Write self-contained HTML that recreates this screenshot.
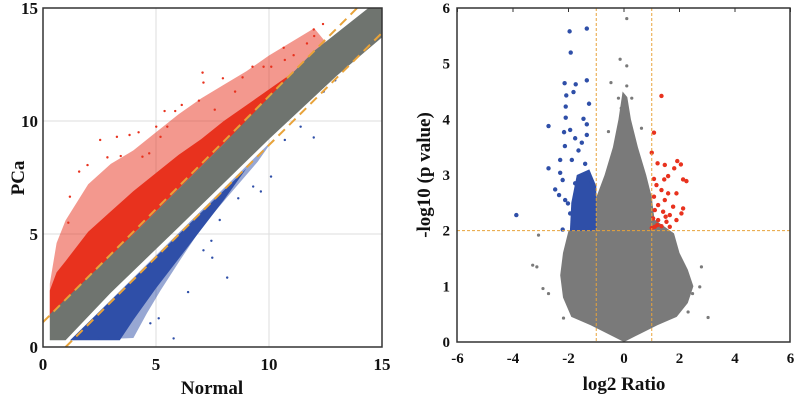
<!DOCTYPE html>
<html><head><meta charset="utf-8"><style>
body{margin:0;background:#fff}
svg text{font-family:"Liberation Serif",serif;font-weight:bold;fill:#111}
</style></head><body>
<svg id="c" width="795" height="400" xmlns="http://www.w3.org/2000/svg"></svg>
<script>
// Left scatter data (Normal vs PCa)
const leftTicks=[0,5,10,15];
const grayBand=[[0.3,0.3],[1.0,0.3],[3,2.4],[6,5.3],[10,9.2],[13,12.0],[15,13.7],[15,15],[14.4,15],[12,13.1],[8,9],[4,5],[0.3,1.45]];
const redSolid=[[0.3,1.3],[0.3,2.5],[0.6,3.3],[1,3.8],[2,5.1],[3,6.0],[4,6.9],[5,7.7],[6,8.5],[7,9.2],[8,10.0],[9,10.7],[10,11.4],[11,12.1],[11.5,12.5]];
const redSparse=[[0.3,1.3],[0.3,2.8],[0.6,4.6],[1,5.6],[2,7.2],[3,8.1],[4,8.7],[5,9.5],[6,10.3],[7,11.0],[8,11.6],[9,12.2],[10,12.9],[11,13.5],[12,14.1],[12.5,13.5]];
const blueSolid=[[1.2,0.3],[3.4,0.3],[4,1.2],[5,2.6],[6,3.9],[7,5.2],[8,6.5],[9,7.9]];
const blueSparse=[[1.2,0.3],[4.0,0.4],[4.6,1.5],[5.2,2.5],[6.1,3.9],[7.1,5.4],[8.3,6.8],[9.5,8.2],[10.2,9.2]];
const redPts=[[2.53,9.16],[3.27,9.3],[3.83,9.38],[4.23,9.5],[5.01,9.75],[5.38,10.44],[5.85,10.44],[6.14,10.71],[7.1,11.7],[7.06,12.14],[7.96,11.89],[8.83,11.93],[9.27,12.4],[9.76,12.4],[10.65,13.24],[11.09,12.91],[11.68,13.43],[11.98,14.05],[12.39,14.29],[12.0,13.76],[1.6,7.76],[1.97,8.05],[1.19,6.65],[1.12,5.5],[2.85,8.39],[3.44,8.45],[4.4,8.42],[4.7,8.57],[5.2,9.3],[5.5,9.75],[6.9,10.9],[7.6,10.5],[8.5,11.3],[10.1,12.4],[10.7,12.7]];
const bluePts=[[5.78,0.38],[8.15,3.07],[6.42,2.43],[5.12,1.27],[7.49,3.95],[7.1,4.28],[7.45,4.7],[7.82,5.62],[8.64,6.58],[9.3,7.1],[9.64,6.88],[10.09,7.54],[10.7,9.16],[11.4,9.75],[11.98,9.27],[12.42,11.3],[12.93,11.8],[4.75,1.05],[2.45,0.38]];
// Right volcano data
const rxTicks=[-6,-4,-2,0,2,4,6];
const ryTicks=[0,1,2,3,4,5,6];
const volcano=[[0,0],[0.6,0.15],[1.2,0.3],[1.9,0.45],[2.3,0.7],[2.5,1.0],[2.3,1.3],[2.0,1.6],[1.8,1.95],[1.1,2.2],[1.0,2.6],[0.8,3.0],[0.5,3.5],[0.25,4.0],[0.12,4.4],[-0.05,4.5],[-0.2,4.0],[-0.4,3.5],[-0.7,3.0],[-1.0,2.6],[-1.1,2.2],[-2.0,2.0],[-2.2,1.6],[-2.3,1.2],[-2.2,0.8],[-1.9,0.45],[-1.2,0.3],[-0.6,0.15]];
const grayPtsR=[[0.1,5.81],[-0.14,5.08],[0.1,4.96],[-0.47,4.66],[-3.29,1.38],[-3.14,1.35],[-2.92,0.96],[-2.72,0.87],[-2.18,0.43],[3.03,0.44],[2.79,1.35],[2.73,0.99],[2.47,0.87],[2.31,0.54],[-3.08,1.92],[-0.2,4.38],[0.28,4.38],[0.63,3.84],[-0.56,3.78],[0.1,4.6],[-0.1,4.2]];
const blueDenseR=[[-1.95,2.0],[-1.0,2.0],[-1.0,2.8],[-1.25,3.1],[-1.7,3.0],[-1.9,2.5]];
const bluePtsR=[[-1.96,5.58],[-1.34,5.63],[-1.92,5.2],[-2.14,4.65],[-1.74,4.63],[-1.34,4.7],[-1.82,4.49],[-2.08,4.43],[-1.26,4.28],[-2.1,4.23],[-2.72,3.88],[-2.1,4.03],[-1.46,4.01],[-1.34,3.91],[-2.16,3.77],[-1.94,3.81],[-1.34,3.72],[-1.76,3.66],[-1.52,3.58],[-2.13,3.52],[-1.64,3.44],[-2.3,3.27],[-2.72,3.12],[-2.3,3.04],[-2.21,2.91],[-2.48,2.74],[-2.34,2.64],[-2.12,2.55],[-3.88,2.28],[-2.21,2.02],[-1.88,3.27],[-1.4,3.2],[-1.28,3.03],[-1.76,2.85],[-1.16,2.88],[-2.02,2.49],[-1.94,2.31]];
const redPtsR=[[1.35,4.42],[1.08,3.76],[1.0,3.4],[1.21,3.21],[1.47,3.18],[1.92,3.25],[2.05,3.19],[1.81,3.12],[1.59,2.98],[1.45,2.92],[2.13,2.92],[2.25,2.89],[1.08,2.93],[1.17,2.82],[1.35,2.73],[1.59,2.67],[1.89,2.67],[1.08,2.61],[1.47,2.55],[1.23,2.46],[1.77,2.43],[2.13,2.4],[1.11,2.37],[1.41,2.34],[1.65,2.28],[2.07,2.31],[1.05,2.22],[1.23,2.19],[1.53,2.16],[1.89,2.19],[1.11,2.07],[1.35,2.08],[1.65,2.07],[1.2,2.1],[1.5,2.25],[1.0,2.05]];

const svg=document.getElementById('c');
const NS='http://www.w3.org/2000/svg';
function mk(t,a,name,parent){const e=document.createElementNS(NS,t);for(const k in a)e.setAttribute(k,a[k]);


(parent||svg).appendChild(e);return e;}
const poly=(pts,fx,fy)=>pts.map(p=>fx(p[0]).toFixed(1)+','+fy(p[1]).toFixed(1)).join(' ');
// left axes
const lx=v=>43+v*(382-43)/15, ly=v=>347-v*(347-8)/15;
const L=mk('g',{},'left-scatter-plot');
[5,10].forEach(t=>{mk('line',{x1:lx(t),x2:lx(t),y1:8,y2:347,stroke:'#ddd'},'grid-x',L);mk('line',{x1:43,x2:382,y1:ly(t),y2:ly(t),stroke:'#ddd'},'grid-y',L);});
mk('polygon',{points:poly(redSparse,lx,ly),fill:'#e8321e','fill-opacity':0.5},'red-sparse-cloud',L);
mk('polygon',{points:poly(redSolid,lx,ly),fill:'#e8321e'},'red-upregulated-cloud',L);
mk('polygon',{points:poly(blueSparse,lx,ly),fill:'#2f4fa8','fill-opacity':0.5},'blue-sparse-cloud',L);
mk('polygon',{points:poly(blueSolid,lx,ly),fill:'#2f4fa8'},'blue-downregulated-cloud',L);
redPts.forEach(p=>mk('circle',{cx:lx(p[0]),cy:ly(p[1]),r:1.2,fill:'#e8321e'},'red-point',L));
bluePts.forEach(p=>mk('circle',{cx:lx(p[0]),cy:ly(p[1]),r:1.2,fill:'#2f4fa8'},'blue-point',L));
mk('polygon',{points:poly(grayBand,lx,ly),fill:'#6f746f'},'gray-unchanged-band',L);
mk('line',{x1:lx(0),y1:ly(1.1),x2:lx(13.9),y2:ly(15),stroke:'#e8a33a','stroke-width':2,'stroke-dasharray':'9,6'},'upper-threshold-line',L);
mk('line',{x1:lx(1),y1:ly(0),x2:lx(15),y2:ly(13.9),stroke:'#e8a33a','stroke-width':2,'stroke-dasharray':'9,6'},'lower-threshold-line',L);
mk('rect',{x:43,y:8,width:339,height:339,fill:'none',stroke:'#333','stroke-width':1.5},'left-plot-frame',L);
leftTicks.forEach(t=>{const a=mk('text',{x:lx(t),y:370,'font-size':17,'text-anchor':'middle'},'x-tick-label',L);a.textContent=t;
const b=mk('text',{x:38,y:ly(t)+6,'font-size':17,'text-anchor':'end'},'y-tick-label',L);b.textContent=t;});
let t=mk('text',{x:212,y:394,'font-size':19,'text-anchor':'middle'},'x-axis-title',L);t.textContent='Normal';
t=mk('text',{x:0,y:0,'font-size':19,'text-anchor':'middle',transform:'translate(24,178) rotate(-90)'},'y-axis-title',L);t.textContent='PCa';
// right axes
const rx=v=>624+v*(790-457)/12, ry=v=>342-v*(342-8)/6;
const R=mk('g',{},'volcano-plot');
mk('polygon',{points:poly(volcano,rx,ry),fill:'#7a7a7a'},'gray-cloud',R);
grayPtsR.forEach(p=>mk('circle',{cx:rx(p[0]),cy:ry(p[1]),r:1.6,fill:'#7a7a7a'},'gray-point',R));
mk('polygon',{points:poly(blueDenseR,rx,ry),fill:'#2f4fa8'},'blue-dense-cluster',R);
bluePtsR.forEach(p=>mk('circle',{cx:rx(p[0]),cy:ry(p[1]),r:2.2,fill:'#2f4fa8'},'blue-point',R));
redPtsR.forEach(p=>mk('circle',{cx:rx(p[0]),cy:ry(p[1]),r:2.2,fill:'#e8321e'},'red-point',R));
[-1,1].forEach(v=>mk('line',{x1:rx(v),x2:rx(v),y1:8,y2:342,stroke:'#e8a33a','stroke-dasharray':'3,2'},'fold-threshold-line',R));
mk('line',{x1:457,x2:790,y1:ry(2),y2:ry(2),stroke:'#e8a33a','stroke-dasharray':'3,2'},'pvalue-threshold-line',R);
mk('rect',{x:457,y:8,width:333,height:334,fill:'none',stroke:'#333','stroke-width':1.5},'right-plot-frame',R);
rxTicks.forEach(v=>{mk('line',{x1:rx(v),x2:rx(v),y1:8,y2:12,stroke:'#333'},'x-tick',R);const a=mk('text',{x:rx(v),y:363,'font-size':15,'text-anchor':'middle'},'x-tick-label',R);a.textContent=v;});
ryTicks.forEach(v=>{const a=mk('text',{x:450,y:ry(v)+5,'font-size':15,'text-anchor':'end'},'y-tick-label',R);a.textContent=v;});
t=mk('text',{x:624,y:390,'font-size':19,'text-anchor':'middle'},'x-axis-title',R);t.textContent='log2 Ratio';
t=mk('text',{x:0,y:0,'font-size':19,'text-anchor':'middle',transform:'translate(430,175) rotate(-90)'},'y-axis-title',R);t.textContent='-log10 (p value)';
</script>
</body></html>
